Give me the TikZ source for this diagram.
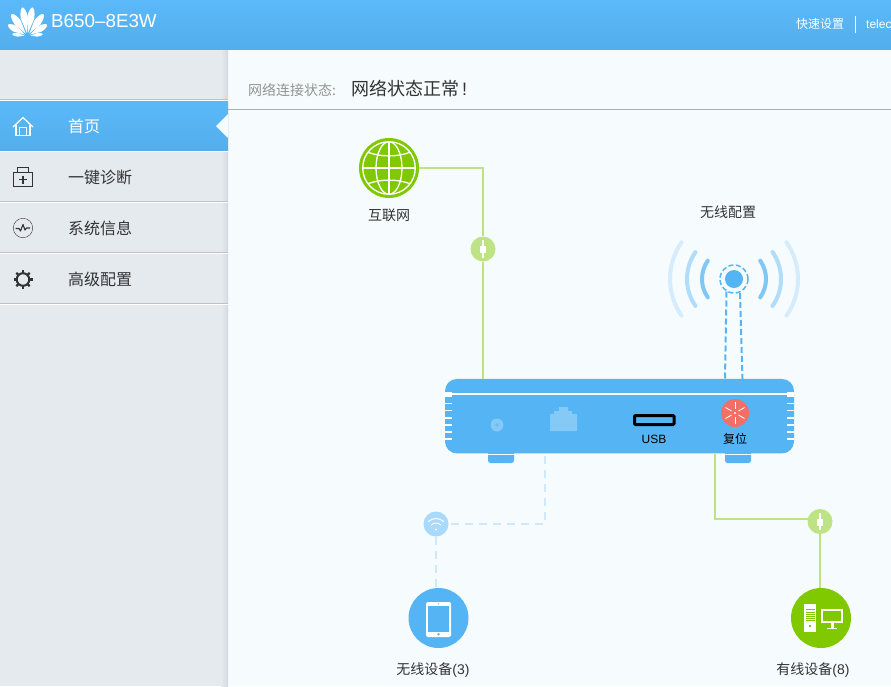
\documentclass[tikz,border=0pt]{standalone}
\usepackage{fontspec}
\setmainfont{Liberation Sans}
\newfontfamily\cjk{Noto Sans CJK SC}
\usetikzlibrary{positioning}
\definecolor{skyblue}{HTML}{55B4F3}
\definecolor{skytop}{HTML}{5CB9F9}
\definecolor{skylow}{HTML}{52AEEC}
\definecolor{sidegray}{HTML}{E4EAEE}
\definecolor{sideedge}{HTML}{D3D9DE}
\definecolor{pagetint}{HTML}{F6FCFD}
\definecolor{rulegray}{HTML}{BEC2C5}
\definecolor{inkgray}{HTML}{333333}
\definecolor{leaf}{HTML}{80C800}
\definecolor{leaflight}{HTML}{BEE384}
\definecolor{porttint}{HTML}{85C9F7}
\definecolor{wifitint}{HTML}{A9D9FB}
\definecolor{wifiline}{HTML}{CFE8FA}
\definecolor{resetred}{HTML}{F07067}
\newcommand{\cnsize}[1]{\cjk\fontsize{#1}{#1}\selectfont}
\tikzset{
  x=1pt, y=-1pt,
  node distance=10pt,
  menutext/.style={anchor=west, inner sep=0pt, text=inkgray, font=\cnsize{16}},
  devtext/.style={inner sep=0pt, text=inkgray, font=\cnsize{14}},
  toptext/.style={inner sep=0pt, text=white},
  hub/.style={circle, inner sep=0pt, minimum size=60pt},
  plug/.style={circle, inner sep=0pt, minimum size=25pt, fill=leaflight},
  wire/.style={draw=leaflight, line width=2pt},
  airwire/.style={draw=wifiline, line width=2pt, dash pattern=on 8pt off 6pt},
  antwire/.style={draw=skyblue, line width=2pt, dash pattern=on 6pt off 3pt},
  foot/.style={fill=skyblue, rounded corners=2.5pt},
  plugicon/.pic={
    \fill[white] (-0.8,-9) rectangle (0.8,8.5);
    \fill[white] (-1.4,-6.5) rectangle (1.4,-2.5);
    \fill[white] (-2.6,-3) rectangle (2.6,4);
  },
}

\begin{document}
\begin{tikzpicture}
  \useasboundingbox (0,0) rectangle (891,686);
  \fill[pagetint] (0,0) rectangle (891,686);

  % sidebar and header
  \fill[sidegray] (0,49) rectangle (228,686);
  \shade[left color=sidegray, right color=sideedge] (221,49) rectangle (228,686);
  \shade[top color=skytop, bottom color=skylow] (0,0) rectangle (891,49);
  \foreach \y in {99.5,201.7,252.3,303.3} {
    \fill[rulegray] (0,\y-0.7) rectangle (228,\y+0.5);
    \fill[white] (0,\y+0.5) rectangle (228,\y+1.5);
  }
  \shade[top color=skytop, bottom color=skylow] (0,101) rectangle (228,150);
  \fill[white] (0,150.5) rectangle (228,151.7);
  \fill[pagetint] (216,126) -- (228,114) -- (228,138) -- cycle;
  \fill[rulegray!90!black] (228,108.7) rectangle (891,109.7);

  % logo
  \begin{scope}[shift={(27.5,36)}]
    \foreach \ang/\len/\wid in {10/29/3.6,-10/29/3.6,36/27/3.6,-36/27/3.6,60/22.5/3.2,-60/22.5/3.2,83/15.5/1.8,-83/15.5/1.8} {
      \fill[white, rotate=\ang] (0,-3) -- (-\wid,-\len*0.62) .. controls (-\wid,-\len*0.85) and (-\wid*0.4,-\len) .. (0,-\len)
        .. controls (\wid*0.4,-\len) and (\wid,-\len*0.85) .. (\wid,-\len*0.62) -- cycle;
    }
  \end{scope}
  \node[toptext, anchor=west, font=\fontsize{18.8}{18.8}\selectfont] (title) at (51,21.5) {B650--8E3W};
  \node[toptext, font=\cnsize{12}] (quick) at (820,24) {快速设置};
  \node[toptext, anchor=west, font=\fontsize{12}{12}\selectfont] (tele) at (866,24) {telec};
  \draw[white] (855.5,16) -- (855.5,33);

  \node[anchor=west, inner sep=0pt, text=gray!85, font=\cnsize{14}] (statuskey) at (248,90) {网络连接状态:};
  \node[anchor=west, inner sep=0pt, text=inkgray, font=\cnsize{18}] (statusval) at (351,89) {网络状态正常{\rmfamily\,!}};

  % menu
  \node[menutext, text=white] (home) at (68,126) {首页};
  \node[menutext] (diag) at (68,177) {一键诊断};
  \node[menutext] (info) at (68,228) {系统信息};
  \node[menutext] (adv) at (68,279.5) {高级配置};

  \draw[white, line width=1.2pt, line join=round] (13,127) -- (23,117.5) -- (33,127);
  \draw[white, line width=1.2pt] (16,124.5) -- (16,135.5) -- (30,135.5) -- (30,124.5);
  \draw[white, line width=1pt] (19.5,135.5) -- (19.5,127) -- (26.5,127) -- (26.5,135.5);

  \draw[inkgray] (13.5,172.5) rectangle (32.5,186.5);
  \draw[inkgray] (17.5,172.5) -- (17.5,167.5) -- (28.5,167.5) -- (28.5,172.5);
  \draw[inkgray, line width=1.5pt] (19,179.5) -- (27,179.5) (23,175.5) -- (23,183.5);

  \draw[inkgray] (23,228) circle (9.7);
  \draw[inkgray, line width=1.1pt, line join=round] (15.5,228.5) -- (19,228.5) -- (20.5,231) -- (23,224.5) -- (25,230) -- (26.5,228) -- (30,228);

  \draw[inkgray, line width=2pt] (23,279.5) circle (6.3);
  \foreach \ang in {0,45,...,315} {
    \draw[inkgray, line width=2.2pt] ([shift={(\ang:6.5)}]23,279.5) -- ([shift={(\ang:9.5)}]23,279.5);
  }

  % devices
  \node[hub, fill=leaf] (internet) at (389,168) {};
  \node[plug] (plugA) at (483,249) {};
  \node[circle, inner sep=0pt, minimum size=18pt, fill=skyblue] (beacon) at (734,279) {};
  \node[circle, inner sep=0pt, minimum size=28pt, draw=skyblue, line width=1.5pt, dash pattern=on 5pt off 2.5pt] (halo) at (734,279) {};
  \node[circle, inner sep=0pt, minimum size=25pt, fill=wifitint] (wifi) at (436,524) {};
  \node[plug] (plugB) at (820,521.5) {};
  \node[hub, fill=skyblue] (wireless) at (438.5,618) {};
  \node[hub, fill=leaf] (wired) at (821,618) {};

  \node[devtext, below=10.5pt of internet] (internetlabel) {互联网};
  \node[devtext] (wlanlabel) at (728,212) {无线配置};
  \node[devtext] (wirelesslabel) at (433,670) {无线设备{\rmfamily (3)}};
  \node[devtext] (wiredlabel) at (813,670) {有线设备{\rmfamily (8)}};

  % router
  \fill[foot] (488,450) rectangle (514,463);
  \fill[foot] (725,450) rectangle (751,463);
  \fill[pagetint] (480,453.5) rectangle (760,455);
  \node[rectangle, rounded corners=12pt, fill=skyblue, inner sep=0pt, minimum width=349pt, minimum height=74.5pt] (router) at (619.5,416.2) {};
  \fill[white] (445,393) rectangle (794,395);
  \fill[white] (445,392) rectangle (452,396.7);
  \fill[white] (787,392) rectangle (794,396.7);
  \foreach \y in {403.5,410.7,418,425,432,439} {
    \fill[white] (445,\y-0.7) rectangle (452,\y+0.7);
    \fill[white] (787,\y-0.7) rectangle (794,\y+0.7);
  }
  \fill[porttint] (497,425) circle (6.5);
  \fill[skyblue!60!porttint] (497,425) circle (1.8);
  \fill[porttint] (559,407) rectangle (568,411) (554,411) rectangle (572,414) (550,414) rectangle (577,431);
  \draw[black, line width=3pt, rounded corners=1pt] (634.5,415.5) rectangle (674,424.5);
  \node[inner sep=0pt, text=black, font=\fontsize{12}{12}\selectfont] (usb) at (654,439) {USB};
  \node[circle, inner sep=0pt, minimum size=28pt, fill=resetred] (reset) at (735,413) {};
  \foreach \ang in {30,90,150,210,270,330} {
    \draw[white, line width=0.8pt] ([shift={(\ang:4)}]reset.center) -- ([shift={(\ang:11)}]reset.center);
  }
  \fill[white] (reset.center) circle (1.2);
  \node[inner sep=0pt, text=black, font=\cnsize{12}] (resetlabel) at (735,439) {复位};

  % antenna arcs
  \foreach \r/\col in {32/skyblue!75,47/skyblue!45,64/skyblue!25} {
    \draw[\col, line width=4pt, line cap=round] ([shift={(145:\r)}]beacon) arc[start angle=145, end angle=215, radius=\r];
    \draw[\col, line width=4pt, line cap=round] ([shift={(-35:\r)}]beacon) arc[start angle=-35, end angle=35, radius=\r];
  }

  % connectors
  \coordinate (antA) at (726.5,291.5);
  \coordinate (antB) at (740,293);
  \coordinate (antAend) at (725,379);
  \coordinate (antBend) at (742.5,379);
  \coordinate (lanout) at (715,454);
  \coordinate (airout) at (545,456);
  \draw[wire] (internet) -| (plugA);
  \draw[wire] (plugA) -- (plugA |- router.north);
  \draw[antwire] (antA) -- (antAend);
  \draw[antwire] (antB) -- (antBend);
  \draw[airwire] (airout) |- (wifi);
  \draw[airwire] (wifi) -- (wifi |- wireless.north);
  \draw[wire] (lanout) |- (plugB.170);
  \draw[wire] (plugB) -- (plugB |- wired.north);

  % icons on the nodes
  \pic at (plugA) {plugicon};
  \pic at (plugB) {plugicon};

  \begin{scope}[shift={(389,168)}]
    \draw[white, line width=1.3pt] (0,0) circle (26.3);
    \clip (0,0) circle (26.3);
    \draw[white, line width=1.3pt] (0,-26) -- (0,26) (-26,0) -- (26,0);
    \draw[white, line width=1.3pt] (0,0) ellipse (13 and 26.3);
    \draw[white, line width=1.3pt] (-24,-17) .. controls (-10,-10.5) and (10,-10.5) .. (24,-17);
    \draw[white, line width=1.3pt] (-24,17) .. controls (-10,10.5) and (10,10.5) .. (24,17);
  \end{scope}

  \draw[white, line width=1pt, line cap=round] ([shift={(-135:11)}]436,529.5) arc[start angle=-135, end angle=-45, radius=11];
  \draw[white, line width=1pt, line cap=round] ([shift={(-135:6.5)}]436,529.5) arc[start angle=-135, end angle=-45, radius=6.5];
  \fill[white] (436,529.5) circle (1.1);

  \fill[white, rounded corners=2pt] (426,602) rectangle (451,637);
  \fill[skyblue] (428,605.5) rectangle (449,631.5);
  \fill[skyblue] (438.5,634.2) circle (1.3);
  \fill[skyblue] (438.5,603.7) circle (0.6);

  \fill[white] (804,604) rectangle (816,632);
  \fill[leaf] (805.5,609) rectangle (814.5,610);
  \foreach \y in {612,614,616,618,620} {
    \fill[leaf] (805.5,\y) rectangle (814.5,\y+0.8);
  }
  \fill[leaf] (809,625) rectangle (811,627);
  \draw[white, line width=1.6pt] (822,610) rectangle (842,622);
  \fill[white] (830.5,622) rectangle (833.5,628);
  \fill[white] (827,627.5) rectangle (837,629);
\end{tikzpicture}
\end{document}
